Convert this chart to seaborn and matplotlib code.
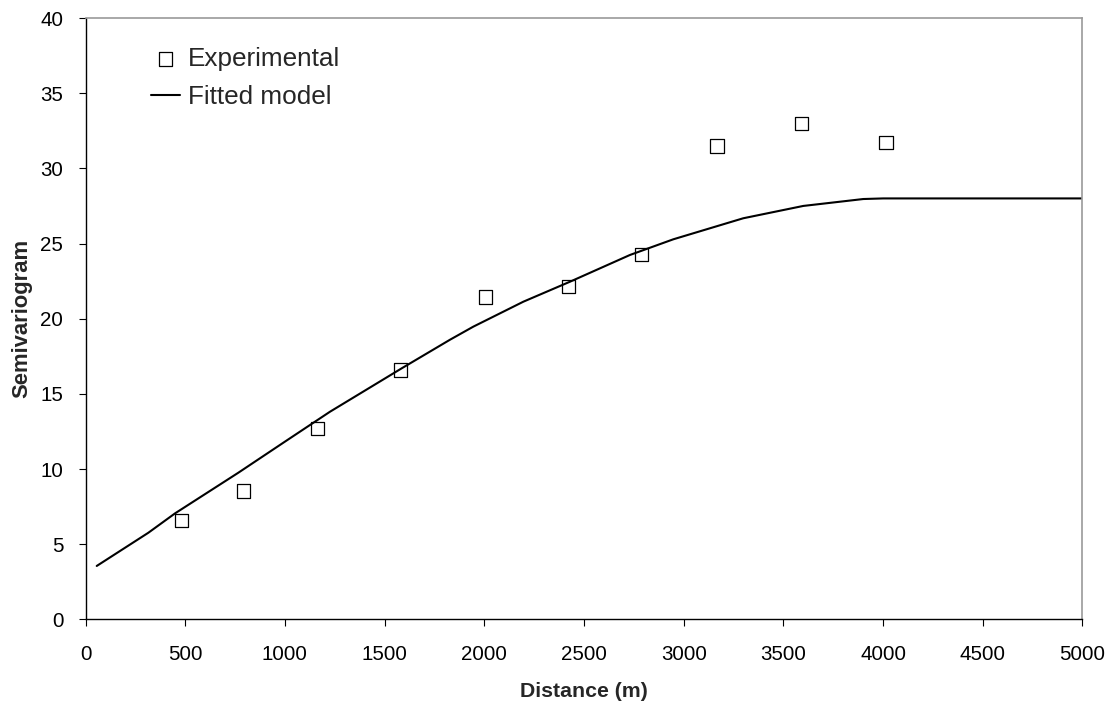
import matplotlib
matplotlib.use("Agg")
import matplotlib.pyplot as plt
import seaborn as sns
import pandas as pd

# Experimental semivariogram
exp_distance = [483, 793, 1163, 1581, 2007, 2421, 2789, 3167, 3593, 4015]
exp_gamma = [6.56, 8.54, 12.71, 16.59, 21.44, 22.13, 24.28, 31.49, 33.0, 31.71]

# Fitted model
model_distance = [56, 315, 449, 766, 1000, 1151, 1226, 1586, 1828, 1945, 2196,
                  2430, 2731, 2948, 3299, 3600, 3901, 4001, 5000]
model_gamma = [3.55, 5.76, 7.05, 9.75, 11.82, 13.15, 13.81, 16.70, 18.60, 19.47,
               21.13, 22.46, 24.24, 25.28, 26.68, 27.50, 27.96, 28.0, 28.0]

x_ticks = [0, 500, 1000, 1500, 2000, 2500, 3000, 3500, 4000, 4500, 5000]
y_ticks = [0, 5, 10, 15, 20, 25, 30, 35, 40]

sns.set_style("ticks")
plt.rcParams['font.family'] = ['Liberation Sans', 'DejaVu Sans']

fig = plt.figure(figsize=(11.14, 7.10), dpi=100)
ax = fig.add_axes([0.0768, 0.1277, 0.8948, 0.8469])

df_exp = pd.DataFrame({"d": exp_distance, "g": exp_gamma})
df_mod = pd.DataFrame({"d": model_distance, "g": model_gamma})

sns.lineplot(data=df_mod, x="d", y="g", ax=ax, color="black", linewidth=1.5,
             label="Fitted model", zorder=2)
sns.scatterplot(data=df_exp, x="d", y="g", ax=ax, marker="s", s=90,
                facecolor="none", edgecolor="black", linewidth=0.9,
                label="Experimental", zorder=3)

ax.set_xlim(0, 5000)
ax.set_ylim(0, 40)
ax.set_xticks(x_ticks)
ax.set_yticks(y_ticks)
ax.tick_params(axis="both", direction="out", length=5, width=0.8, color="black",
               labelsize=14.8, labelcolor="black")
ax.tick_params(axis="x", pad=13.5)
ax.tick_params(axis="y", pad=11)

for side in ["left", "bottom"]:
    ax.spines[side].set_color("black")
    ax.spines[side].set_linewidth(1.0)
for side in ["top", "right"]:
    ax.spines[side].set_visible(True)
    ax.spines[side].set_color("#9a9a9a")
    ax.spines[side].set_linewidth(1.2)

ax.set_xlabel("Distance (m)", fontsize=15.3, fontweight="bold", labelpad=13)
ax.set_ylabel("Semivariogram", fontsize=15.8, fontweight="bold", labelpad=5.5)

handles, labels = ax.get_legend_handles_labels()
order = [labels.index("Experimental"), labels.index("Fitted model")]
leg = ax.legend([handles[i] for i in order], [labels[i] for i in order],
                loc="upper left", bbox_to_anchor=(0.066, 0.952), frameon=False,
                fontsize=18.8, handlelength=1.1, handletextpad=0.3,
                labelspacing=0.54, borderaxespad=0, borderpad=0)

fig.savefig("out.png", dpi=100, facecolor="white")
